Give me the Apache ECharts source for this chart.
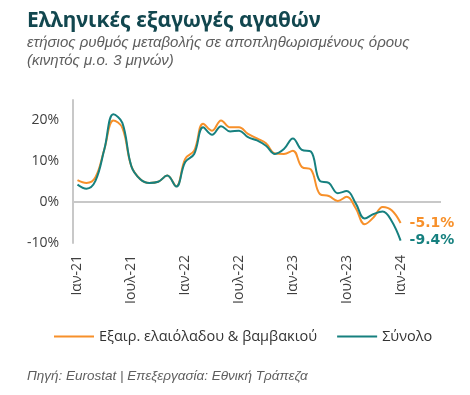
<!DOCTYPE html>
<html>
<head>
<meta charset="utf-8">
<script src="https://cdn.jsdelivr.net/npm/echarts@6/dist/echarts.min.js"></script>
<style>
html,body{margin:0;padding:0;background:#fff;}
#c{width:470px;height:395px;}
</style>
</head>
<body>
<div id="c"></div>
<script>
// Month labels (Greek) and years covered by the category axis
const monthNames = ['Ιαν','Φεβ','Μαρ','Απρ','Μαϊ','Ιουν','Ιουλ','Αυγ','Σεπ','Οκτ','Νοε','Δεκ'];
const years = ['21','22','23','24'];
const monthCount = 41; // Ιαν-21 ... Μαϊ-24 (axis extends past the data)

// Series values (% y/y, 3-month moving average), Ιαν-21 ... Ιαν-24
const exOliveCotton = [5.4, 4.7, 6.1, 13.0, 20.0, 18.2, 8.8, 5.6, 4.7, 5.0, 6.5, 3.9,
  10.6, 12.6, 19.2, 17.5, 20.0, 18.3, 18.3, 16.7, 15.6, 14.4, 11.9, 11.8,
  12.6, 8.6, 8.0, 2.0, 1.5, 0.3, 1.3, -1.5, -5.4, -3.7, -1.2, -2.0, -5.1];
const total = [4.3, 3.3, 5.2, 13.0, 21.5, 19.4, 8.8, 5.6, 4.7, 5.0, 6.5, 3.8,
  9.8, 11.8, 18.3, 16.5, 18.6, 17.3, 17.5, 15.9, 15.1, 13.8, 11.8, 13.0,
  15.6, 12.8, 12.4, 5.2, 4.7, 2.2, 2.7, -0.3, -4.0, -2.9, -2.3, -4.6, -9.4];

const seriesNames = ['Εξαιρ. ελαιόλαδου & βαμβακιού', 'Σύνολο'];
const yTicks = [-10, 0, 10, 20];

const categories = [];
for (let i = 0; i < monthCount; i++) {
  categories.push(monthNames[i % 12] + '-' + years[Math.floor(i / 12)]);
}

const ORANGE = '#F7902A';
const TEAL = '#16807F';
const FONT = '"Open Sans", "Noto Sans", sans-serif';
const ITALIC_FONT = '"Liberation Sans", Arial, sans-serif';

const chart = echarts.init(document.getElementById('c'), null, {renderer: 'canvas'});
chart.setOption({
  animation: false,
  backgroundColor: '#fff',
  title: [
    {text: 'Ελληνικές εξαγωγές αγαθών', left: 22, top: 6,
     textStyle: {fontFamily: '"Noto Sans", sans-serif', fontWeight: 'bold', fontSize: 21, color: '#12474F'}},
    {text: 'ετήσιος ρυθμός μεταβολής σε αποπληθωρισμένους όρους\n(κινητός μ.ο. 3 μηνών)', left: 22, top: 29,
     textStyle: {fontFamily: ITALIC_FONT, fontStyle: 'italic', fontWeight: 'normal', fontSize: 15, lineHeight: 18, color: '#5E5E5E'}},
    {text: 'Πηγή: Eurostat | Επεξεργασία: Εθνική Τράπεζα', left: 22, top: 364,
     textStyle: {fontFamily: ITALIC_FONT, fontStyle: 'italic', fontWeight: 'normal', fontSize: 13.5, color: '#5E5E5E'}}
  ],
  legend: {
    left: 49, top: 324,
    itemWidth: 40, itemHeight: 2, itemGap: 20,
    icon: 'rect',
    textStyle: {fontFamily: FONT, fontSize: 14.5, color: '#333'},
    data: seriesNames
  },
  grid: {left: 73, top: 100, right: 29, bottom: 152, containLabel: false},
  xAxis: {
    type: 'category',
    data: categories,
    boundaryGap: true,
    axisLine: {show: false},
    axisTick: {show: false},
    axisLabel: {interval: 5, rotate: 90, margin: 12, fontFamily: FONT, fontSize: 14, color: '#404040'}
  },
  yAxis: {
    type: 'value',
    min: -10, max: 25, interval: 10,
    axisLine: {show: true, lineStyle: {color: '#C8C8C8', width: 2}},
    axisTick: {show: false},
    splitLine: {show: false},
    axisLabel: {
      showMaxLabel: false, margin: 14, fontFamily: FONT, fontSize: 14, color: '#404040',
      formatter: v => (yTicks.indexOf(v) >= 0 ? v + '%' : '')
    }
  },
  series: [
    {
      name: seriesNames[0], type: 'line', data: exOliveCotton, smooth: 0.4,
      showSymbol: false, symbol: 'none', z: 3,
      lineStyle: {color: ORANGE, width: 2}, itemStyle: {color: ORANGE},
      endLabel: {show: true, distance: 9, formatter: p => p.value.toFixed(1) + '%',
        fontFamily: '"DejaVu Sans", sans-serif', fontSize: 14, fontWeight: 'bold', color: ORANGE},
      markLine: {silent: true, symbol: 'none', label: {show: false},
        lineStyle: {color: '#C8C8C8', width: 2, type: 'solid'}, data: [{yAxis: 0}], z: 1}
    },
    {
      name: seriesNames[1], type: 'line', data: total, smooth: 0.4,
      showSymbol: false, symbol: 'none', z: 4,
      lineStyle: {color: TEAL, width: 2}, itemStyle: {color: TEAL},
      endLabel: {show: true, distance: 9, formatter: p => p.value.toFixed(1) + '%',
        fontFamily: '"DejaVu Sans", sans-serif', fontSize: 14, fontWeight: 'bold', color: TEAL}
    }
  ]
});
</script>
</body>
</html>
